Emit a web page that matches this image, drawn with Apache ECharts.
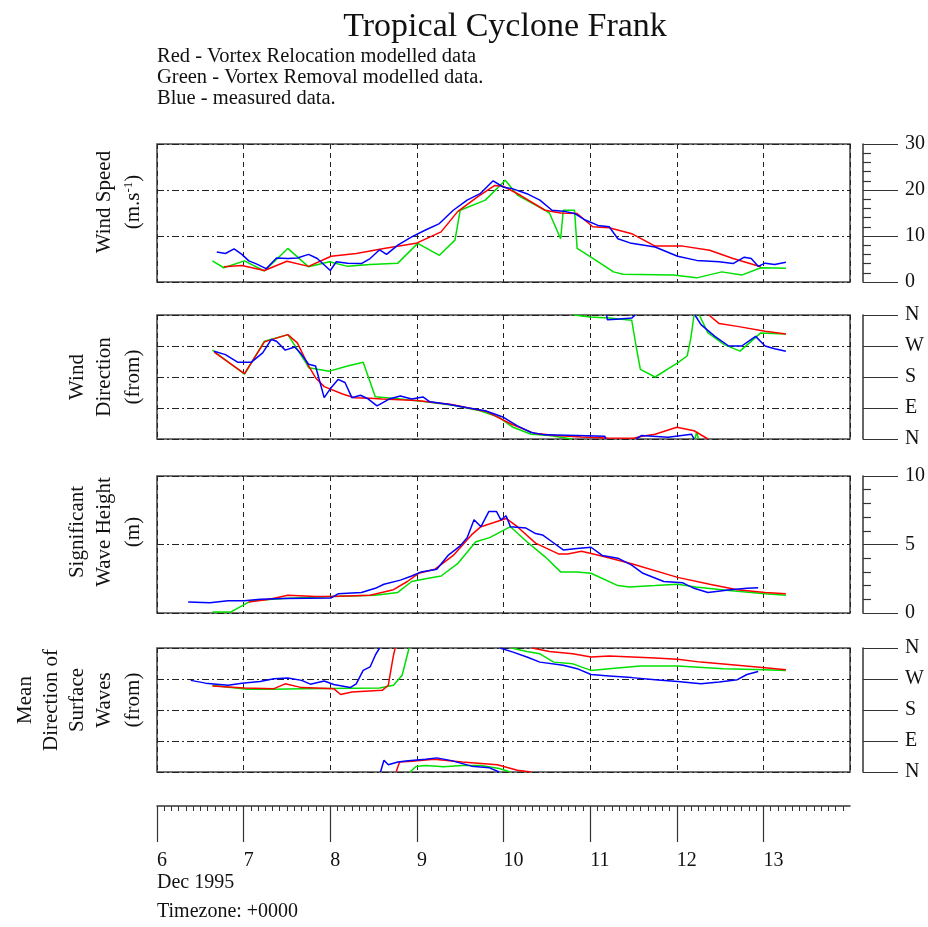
<!DOCTYPE html>
<html>
<head>
<meta charset="utf-8">
<title>Tropical Cyclone Frank</title>
<script src="https://cdn.jsdelivr.net/npm/echarts@6.0.0/dist/echarts.min.js"></script>
<style>
  html, body { margin: 0; padding: 0; background: #fff; }
  #chart { width: 928px; height: 927px; }
</style>
</head>
<body>
<div id="chart"></div>
<script>
// time axis: day of month, Dec 1995 (UTC)
const dayTicks = [6, 7, 8, 9, 10, 11, 12, 13];
const dirLabels = { 0: "N", 90: "E", 180: "S", 270: "W", 360: "N" };

// wind speed (m/s)
const speedBlue = [[6.69,6.5],[6.79,6.2],[6.89,7.2],[6.98,6.0],[7.06,4.6],[7.14,4.0],[7.26,2.9],[7.38,5.2],[7.51,5.1],[7.62,5.2],[7.75,6.0],[7.85,5.1],[8.0,2.5],[8.07,4.4],[8.2,4.1],[8.36,4.0],[8.46,5.1],[8.57,7.0],[8.65,6.0],[8.78,8.0],[8.94,9.8],[9.1,11.3],[9.26,12.7],[9.42,15.6],[9.58,17.8],[9.73,19.2],[9.88,22.0],[10.0,20.6],[10.1,20.3],[10.27,19.2],[10.42,17.8],[10.56,15.6],[10.72,15.3],[10.82,14.9],[10.93,13.6],[11.09,12.3],[11.22,12.0],[11.32,9.4],[11.46,8.5],[11.75,7.6],[12.01,5.6],[12.23,4.7],[12.49,4.4],[12.65,4.0],[12.78,5.4],[12.86,5.1],[12.94,3.4],[13.02,4.1],[13.13,3.8],[13.26,4.3]];
const speedRed = [[6.77,3.3],[6.98,3.6],[7.24,2.5],[7.5,4.5],[7.75,3.4],[8.01,5.6],[8.3,6.2],[8.62,7.3],[8.99,8.4],[9.28,10.9],[9.47,15.3],[9.7,18.5],[9.9,21.0],[10.0,20.8],[10.2,18.8],[10.48,15.6],[10.66,15.0],[10.85,14.9],[11.03,12.0],[11.22,11.8],[11.48,10.5],[11.75,7.8],[12.07,7.8],[12.38,6.9],[12.65,5.1],[12.97,3.3]];
const speedGreen = [[6.64,4.6],[6.77,3.1],[7.01,4.6],[7.24,2.4],[7.51,7.3],[7.75,3.3],[7.99,4.4],[8.2,3.4],[8.46,3.8],[8.78,4.1],[9.01,8.4],[9.26,5.8],[9.44,9.1],[9.5,15.6],[9.79,17.8],[10.02,22.1],[10.16,18.9],[10.48,15.6],[10.53,15.0],[10.66,9.4],[10.69,15.6],[10.82,15.6],[10.85,7.3],[11.01,5.4],[11.27,2.2],[11.38,1.7],[11.96,1.5],[12.23,0.9],[12.52,2.2],[12.75,1.5],[12.97,3.1],[13.26,3.0]];

// wind direction (deg, from); null = wrap between N at bottom and N at top
const windDirBlue = [[6.66,255],[6.79,245],[6.93,223],[7.09,223],[7.22,250],[7.32,289],[7.38,284],[7.48,258],[7.59,267],[7.67,245],[7.75,217],[7.83,212],[7.93,120],[8.01,149],[8.09,173],[8.17,164],[8.25,120],[8.35,127],[8.44,116],[8.54,96],[8.68,116],[8.81,125],[8.94,116],[9.07,122],[9.15,108],[9.36,101],[9.58,91],[9.79,82],[10.0,63],[10.16,38],[10.32,19],[10.48,12],[10.85,10],[11.17,8],[11.18,0],[11.185,null],[11.19,360],[11.2,346],[11.3,348],[11.48,351],[11.52,360],[11.525,null],[11.53,0],[11.59,10],[11.9,5],[12.17,14],[12.2,0],[12.205,null],[12.21,360],[12.28,332],[12.44,298],[12.6,270],[12.75,270],[12.91,298],[13.02,270],[13.13,262],[13.26,255]];
const windDirRed = [[6.66,252],[7.01,190],[7.24,282],[7.51,303],[7.62,279],[7.75,212],[7.83,178],[7.93,152],[8.15,130],[8.28,120],[8.46,118],[8.6,116],[9.0,112],[9.4,100],[9.8,80],[10.1,42],[10.35,17],[10.6,10],[10.9,6],[11.2,3],[11.5,2],[11.6,8],[11.75,14],[12.0,34],[12.2,24],[12.36,0],[12.365,null],[12.37,360],[12.49,335],[12.7,327],[13.02,313],[13.26,305]];
const windDirGreen = [[6.64,258],[7.01,188],[7.24,284],[7.51,303],[7.72,221],[7.75,207],[7.99,197],[8.2,212],[8.38,223],[8.52,123],[8.78,117],[9.1,108],[9.42,98],[9.73,82],[9.95,63],[10.11,34],[10.32,14],[10.53,10],[10.79,0],[10.8,null],[10.81,360],[11.0,354],[11.22,351],[11.48,345],[11.53,270],[11.58,202],[11.75,180],[12.01,221],[12.12,241],[12.16,289],[12.2,360],[12.205,null],[12.21,0],[12.23,20],[12.25,0],[12.255,null],[12.26,360],[12.36,308],[12.55,274],[12.73,255],[12.97,308],[13.26,305]];

// significant wave height (m)
const hsBlue = [[6.36,0.8],[6.61,0.75],[6.82,0.9],[7.01,0.9],[7.19,1.0],[7.46,1.05],[8.01,1.1],[8.09,1.4],[8.36,1.5],[8.52,1.8],[8.62,2.1],[8.81,2.4],[8.94,2.7],[9.05,3.0],[9.23,3.2],[9.36,4.2],[9.5,4.9],[9.58,5.5],[9.66,6.8],[9.74,6.3],[9.83,7.4],[9.92,7.4],[9.97,6.8],[10.03,7.1],[10.08,6.3],[10.26,6.2],[10.37,5.8],[10.45,5.7],[10.56,5.2],[10.69,4.6],[10.85,4.7],[11.01,4.8],[11.14,4.2],[11.32,4.0],[11.48,3.5],[11.61,2.9],[11.85,2.3],[12.07,2.2],[12.2,1.8],[12.36,1.5],[12.62,1.7],[12.81,1.8],[12.94,1.85]];
const hsRed = [[7.06,0.8],[7.3,1.0],[7.51,1.3],[7.83,1.2],[8.01,1.2],[8.46,1.3],[8.73,1.7],[8.89,2.3],[9.02,2.9],[9.21,3.2],[9.42,4.2],[9.63,5.7],[9.74,6.3],[9.89,6.6],[10.03,6.9],[10.16,6.3],[10.37,5.1],[10.64,4.3],[10.74,4.3],[10.9,4.5],[11.11,4.2],[11.48,3.6],[12.01,2.6],[12.38,2.1],[12.7,1.7],[13.02,1.5],[13.26,1.4]];
const hsGreen = [[6.64,0.07],[6.85,0.07],[7.09,0.9],[7.46,1.05],[8.01,1.2],[8.52,1.3],[8.78,1.5],[8.94,2.3],[9.1,2.5],[9.28,2.7],[9.47,3.6],[9.68,5.2],[9.84,5.5],[10.08,6.3],[10.27,5.2],[10.48,4.1],[10.66,3.0],[10.85,3.0],[11.01,2.9],[11.32,2.0],[11.45,1.9],[11.75,2.0],[12.01,2.1],[12.22,1.9],[12.6,1.65],[13.02,1.4],[13.26,1.3]];

// mean direction of surface waves (deg, from)
const waveDirBlue = [[6.39,266],[6.56,258],[6.82,252],[6.98,258],[7.19,263],[7.35,271],[7.51,273],[7.67,266],[7.77,255],[7.93,264],[8.04,254],[8.23,245],[8.3,256],[8.38,295],[8.46,305],[8.52,339],[8.57,360],[8.575,null],[8.58,0],[8.62,34],[8.67,21],[8.78,29],[8.9,33],[9.1,37],[9.23,41],[9.4,33],[9.63,17],[9.84,12],[9.95,0],[9.955,null],[9.96,360],[10.11,348],[10.27,334],[10.42,319],[10.69,310],[10.85,300],[11.01,283],[11.22,279],[11.48,274],[11.75,268],[12.01,263],[12.28,256],[12.49,261],[12.7,268],[12.81,283],[12.94,292]];
const waveDirRed = [[6.64,250],[7.01,244],[7.35,242],[7.48,256],[7.67,245],[7.83,244],[8.04,242],[8.12,225],[8.25,232],[8.6,237],[8.67,252],[8.73,339],[8.75,360],[8.755,null],[8.76,0],[8.8,29],[8.94,31],[9.2,37],[9.52,29],[9.93,21],[10.16,5],[10.32,0],[10.325,null],[10.33,360],[10.53,350],[10.8,343],[11.01,334],[11.22,337],[11.75,331],[12.01,327],[12.28,319],[12.7,310],[13.02,303],[13.26,297]];
const waveDirGreen = [[6.64,252],[6.8,247],[7.04,240],[7.35,240],[7.67,242],[8.57,244],[8.73,252],[8.83,281],[8.91,360],[8.915,null],[8.92,0],[8.99,16],[9.1,19],[9.31,15],[9.52,19],[9.74,19],[9.95,10],[10.08,0],[10.085,null],[10.09,360],[10.27,350],[10.42,343],[10.58,319],[10.8,314],[11.01,295],[11.22,300],[11.58,308],[12.01,308],[12.54,300],[13.02,297],[13.26,295]];

const SERIF = "'Liberation Serif', 'DejaVu Serif', serif";
const RED = "#ff0000", GREEN = "#00e000", BLUE = "#0000ff";

// panel boxes: top/height in px
const panels = [
  { top: 144, height: 138, min: 0, max: 30, interval: 10, minor: true },
  { top: 315, height: 124, min: 0, max: 360, interval: 90, minor: false, dir: true },
  { top: 476, height: 137, min: 0, max: 10, interval: 5, minor: true },
  { top: 648, height: 124, min: 0, max: 360, interval: 90, minor: false, dir: true },
];
const seriesData = [
  [speedGreen, speedRed, speedBlue],
  [windDirGreen, windDirRed, windDirBlue],
  [hsGreen, hsRed, hsBlue],
  [waveDirGreen, waveDirRed, waveDirBlue],
];

const grids = [], xAxes = [], yAxes = [], series = [];
panels.forEach(function (p, i) {
  grids.push({ left: 157, width: 693, top: p.top, height: p.height, show: true,
    borderColor: "#4a4a4a", borderWidth: 1.6, backgroundColor: "transparent" });
  xAxes.push({
    gridIndex: i, type: "value", min: 6, max: 14, interval: 1,
    axisLine: { show: false }, axisTick: { show: false }, axisLabel: { show: false },
    splitLine: { show: true, lineStyle: { color: "#222", width: 1, type: [5, 4] } },
  });
  yAxes.push({
    gridIndex: i, type: "value", position: "right", offset: 13,
    min: p.min, max: p.max, interval: p.interval,
    axisLine: { show: true, lineStyle: { color: "#333", width: 1.5 } },
    axisTick: { show: true, length: 35, lineStyle: { color: "#333", width: 1.2 } },
    minorTick: { show: p.minor, splitNumber: 5, length: 8, lineStyle: { color: "#333", width: 1.2 } },
    axisLabel: {
      margin: 42, fontSize: 20, fontFamily: SERIF, color: "#111",
      formatter: p.dir ? function (v) { return dirLabels[v]; } : null,
    },
    splitLine: { show: true, lineStyle: { color: "#222", width: 1, type: [7, 3, 2, 3] } },
  });
  const colors = [GREEN, RED, BLUE];
  seriesData[i].forEach(function (d, k) {
    series.push({
      type: "line", xAxisIndex: i, yAxisIndex: i, data: d,
      showSymbol: false, connectNulls: false, silent: true,
      lineStyle: { color: colors[k], width: 1.5 }, itemStyle: { color: colors[k] },
      z: 3 + k,
    });
  });
});

// time axis at the bottom
grids.push({ left: 157, width: 693, top: 800, height: 6, show: false });
xAxes.push({
  gridIndex: 4, type: "value", min: 6, max: 14, interval: 1, position: "bottom",
  axisLine: { show: true, lineStyle: { color: "#333", width: 1.5 } },
  axisTick: { show: true, customValues: dayTicks, length: 36, lineStyle: { color: "#333", width: 1.2 } },
  minorTick: { show: true, splitNumber: 12, length: 5, lineStyle: { color: "#333", width: 1 } },
  axisLabel: { customValues: dayTicks, align: "left", margin: 45, fontSize: 20, fontFamily: SERIF, color: "#111" },
  splitLine: { show: false },
});
yAxes.push({ gridIndex: 4, type: "value", show: false });

function txt(x, y, text, size, opts) {
  return Object.assign({
    type: "text", x: x, y: y, silent: true,
    style: { text: text, fontSize: size, fontFamily: SERIF, fill: "#111",
      align: "left", verticalAlign: "middle" },
  }, opts || {});
}
function vtxt(x, y, text, rich) {
  const el = txt(x, y, text, 21, { rotation: Math.PI / 2 });
  el.style.align = "center";
  if (rich) el.style.rich = rich;
  return el;
}

const supRich = { sup: { fontSize: 13, fontFamily: SERIF, verticalAlign: "top", fill: "#111", padding: [0, 0, 8, 0] } };

const graphics = [
  txt(505, 27, "Tropical Cyclone Frank", 34, {}),
  txt(157, 57, "Red - Vortex Relocation modelled data", 20.5),
  txt(157, 78, "Green - Vortex Removal modelled data.", 20.5),
  txt(157, 99, "Blue - measured data.", 20.5),
  txt(157, 883, "Dec 1995", 20),
  txt(157, 912, "Timezone: +0000", 20),
  vtxt(104, 202, "Wind Speed"),
  vtxt(133, 202, "(m.s{sup|-1})", supRich),
  vtxt(77, 377, "Wind"),
  vtxt(104, 377, "Direction"),
  vtxt(133, 377, "(from)"),
  vtxt(77, 532, "Significant"),
  vtxt(104, 532, "Wave Height"),
  vtxt(133, 532, "(m)"),
  vtxt(25, 700, "Mean"),
  vtxt(51, 700, "Direction of"),
  vtxt(77, 700, "Surface"),
  vtxt(104, 700, "Waves"),
  vtxt(133, 700, "(from)"),
];
graphics[0].style.align = "center";

const chart = echarts.init(document.getElementById("chart"), null, { renderer: "canvas" });
chart.setOption({
  backgroundColor: "#fff",
  animation: false,
  grid: grids,
  xAxis: xAxes,
  yAxis: yAxes,
  series: series,
  graphic: graphics,
});
</script>
</body>
</html>
